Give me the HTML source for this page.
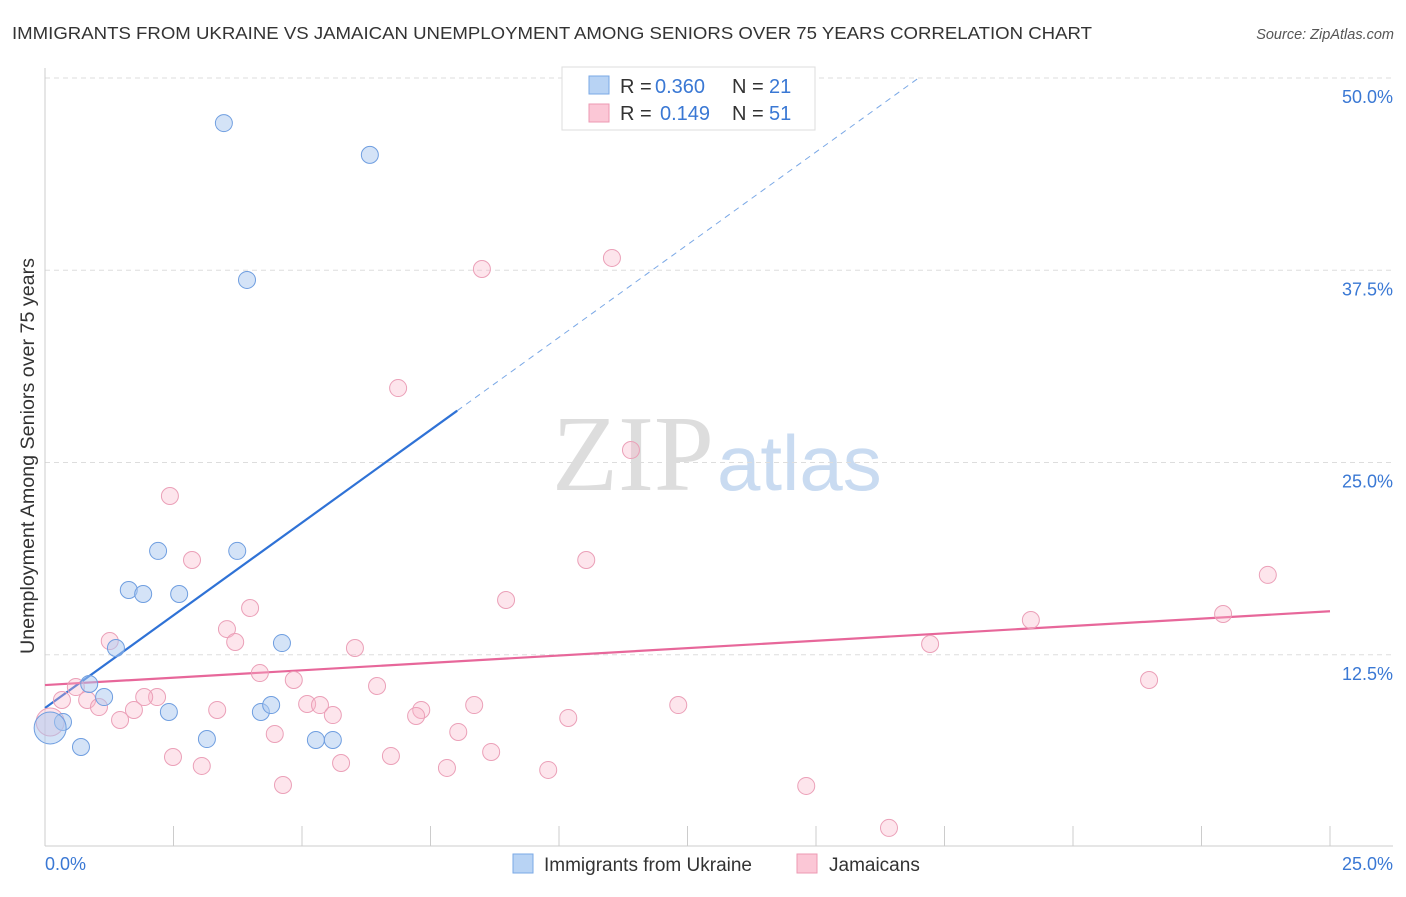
<!DOCTYPE html>
<html><head><meta charset="utf-8"><style>
body{margin:0;background:#fff;font-family:"Liberation Sans",sans-serif;}
svg text{font-family:"Liberation Sans",sans-serif;}
</style></head><body>
<svg id="chart" width="1406" height="892" xmlns="http://www.w3.org/2000/svg">
<text x="12" y="39" font-size="17.5" fill="#333" textLength="1080" lengthAdjust="spacingAndGlyphs">IMMIGRANTS FROM UKRAINE VS JAMAICAN UNEMPLOYMENT AMONG SENIORS OVER 75 YEARS CORRELATION CHART</text>
<text x="1394" y="39" font-size="14.5" fill="#555" font-style="italic" text-anchor="end">Source: ZipAtlas.com</text>
<text x="714" y="490" font-size="108" fill="#ddd" text-anchor="end" style="font-family:'Liberation Serif',serif">ZIP</text>
<text x="717" y="490" font-size="78" fill="#c9dbf1">atlas</text>
<text transform="translate(34,456) rotate(-90)" font-size="19" fill="#333" text-anchor="middle" textLength="396" lengthAdjust="spacingAndGlyphs">Unemployment Among Seniors over 75 years</text>
<g id="grid"></g><g id="lines"></g><g id="pts"></g>
<g>
<rect x="562" y="67" width="253" height="63" fill="#fff" stroke="#ddd"/>
<rect x="589" y="76" width="20" height="18" fill="#b8d3f4" stroke="#7aa8e6"/>
<rect x="589" y="104" width="20" height="18" fill="#fbc7d6" stroke="#ec9ab3"/>
<text x="620" y="93" font-size="20" fill="#333">R =</text>
<text x="655" y="93" font-size="20" fill="#3a78d4">0.360</text>
<text x="732" y="93" font-size="20" fill="#333">N =</text>
<text x="769" y="93" font-size="20" fill="#3a78d4">21</text>
<text x="620" y="120" font-size="20" fill="#333">R =</text>
<text x="660" y="120" font-size="20" fill="#3a78d4">0.149</text>
<text x="732" y="120" font-size="20" fill="#333">N =</text>
<text x="769" y="120" font-size="20" fill="#3a78d4">51</text>
</g>
<g>
<rect x="513" y="854" width="20" height="19" fill="#b8d3f4" stroke="#7aa8e6"/>
<text x="544" y="871" font-size="19" fill="#333">Immigrants from Ukraine</text>
<rect x="797" y="854" width="20" height="19" fill="#fbc7d6" stroke="#ec9ab3"/>
<text x="829" y="871" font-size="19" fill="#333">Jamaicans</text>
</g>
</svg>
<script>
const yTicks=[12.5,25.0,37.5,50.0];
const xTickLabels=["0.0%","25.0%"];
const ukraineX=[3.48,6.32,3.93,2.20,3.74,1.63,1.91,2.61,1.38,4.61,0.86,1.15,2.41,4.20,4.40,3.15,5.27,5.60,0.70,0.35,0.10];
const ukraineY=[47.07,45.0,36.87,19.25,19.25,16.71,16.45,16.45,12.94,13.26,10.6,9.75,8.78,8.78,9.23,7.02,6.96,6.96,6.5,8.13,7.74];
const jamX=[8.50,11.03,6.87,11.40,2.43,10.53,2.86,23.79,8.97,3.99,22.92,19.18,3.54,1.26,3.70,17.22,6.03,4.18,21.48,0.60,4.84,6.46,2.18,1.93,0.33,0.82,5.10,5.35,8.35,12.32,1.05,1.73,3.35,5.60,7.32,7.22,10.18,1.46,4.47,8.04,8.68,2.49,6.73,3.05,5.76,7.82,9.79,4.63,14.81,16.42,0.10];
const jamY=[37.58,38.30,29.84,25.81,22.82,18.66,18.66,17.69,16.06,15.54,15.15,14.76,14.17,13.39,13.33,13.20,12.94,11.31,10.86,10.40,10.86,10.47,9.75,9.75,9.56,9.56,9.30,9.23,9.23,9.23,9.10,8.91,8.91,8.58,8.91,8.52,8.39,8.26,7.35,7.48,6.18,5.85,5.92,5.27,5.46,5.14,5.01,4.03,3.97,1.24,8.13];
const ukraineFit=[9.04,2.41]; // intercept, slope
const jamFit=[10.53,0.192];
const NS="http://www.w3.org/2000/svg";
const X=v=>45+v*51.4, Y=v=>847-v*15.38;
function mk(tag,a,parent){const e=document.createElementNS(NS,tag);for(const k in a)e.setAttribute(k,a[k]);document.getElementById(parent).appendChild(e);return e;}
yTicks.forEach(t=>{
 const l=mk('line',{x1:45,x2:1393,y1:Y(t),y2:Y(t),stroke:'#ddd','stroke-dasharray':'5,4'},'grid');
 
 
 const tx=mk('text',{x:1393,y:Y(t)+25,'font-size':18,fill:'#3a78d4','text-anchor':'end'},'grid');
 tx.textContent=t.toFixed(1)+'%';
 
 
});
mk('line',{x1:45,x2:45,y1:68,y2:846,stroke:'#ccc'},'grid');
mk('line',{x1:45,x2:1393,y1:846,y2:846,stroke:'#ccc'},'grid');
for(let i=0;i<=10;i++){const t=mk('line',{x1:X(i*2.5),x2:X(i*2.5),y1:826,y2:846,stroke:'#ccc'},'grid');
 
 }
xTickLabels.forEach((s,i)=>{const t=mk('text',{x:i?1393:45,y:870,'font-size':18,fill:'#3a78d4','text-anchor':i?'end':'start'},'grid');t.textContent=s;
 
 });
function fy(f,x){return f[0]+f[1]*x;}
const xe=(50-ukraineFit[0])/ukraineFit[1];
let l1=mk('line',{x1:X(0),y1:Y(fy(ukraineFit,0)),x2:X(8.02),y2:Y(fy(ukraineFit,8.02)),stroke:'#2f72d6','stroke-width':2.2},'lines');


let l2=mk('line',{x1:X(8.02),y1:Y(fy(ukraineFit,8.02)),x2:X(xe),y2:Y(50),stroke:'#7aa8e6','stroke-width':1,'stroke-dasharray':'6,5'},'lines');


let l3=mk('line',{x1:X(0),y1:Y(fy(jamFit,0)),x2:X(25),y2:Y(fy(jamFit,25)),stroke:'#e7679a','stroke-width':2.2},'lines');


jamX.forEach((x,i)=>{const big=i===jamX.length-1;const c=mk('circle',{cx:X(x),cy:Y(jamY[i]),r:big?14:8.5,fill:'rgba(248,180,200,0.35)',stroke:'#eba0b8','stroke-width':1},'pts');
 
 });
ukraineX.forEach((x,i)=>{const big=i===ukraineX.length-1;const c=mk('circle',{cx:X(x),cy:Y(ukraineY[i]),r:big?16:8.5,fill:'rgba(170,200,240,0.5)',stroke:'#6f9ee0','stroke-width':1},'pts');
 
 });
</script>
</body></html>
